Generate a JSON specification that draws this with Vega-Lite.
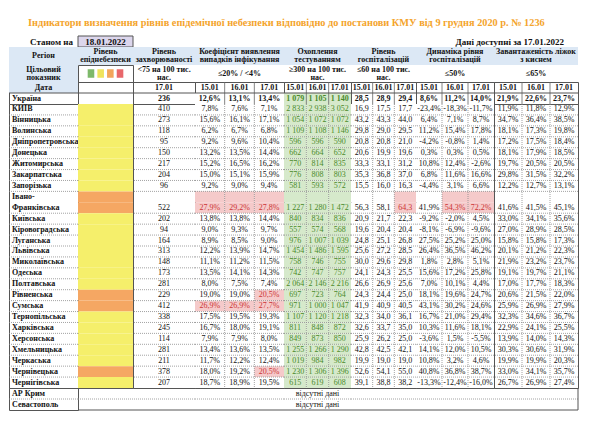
{
"$schema": "https://vega.github.io/schema/vega-lite/v6.json",
"background": "white",
"padding": {"left": 8, "top": 18, "right": 5, "bottom": 5},
"title": {"text": "Індикатори визначення рівнів епідемічної небезпеки відповідно до постанови КМУ від 9 грудня 2020 р. № 1236", "font": "Liberation Serif", "fontSize": 10.3, "fontWeight": "bold", "color": "#f4a42c", "anchor": "start", "dx": 20, "offset": 7},
"config": {
 "font": "Liberation Serif",
 "view": {"stroke": "#555", "strokeWidth": 1},
 "text": {"fontSize": 8, "color": "#111", "baseline": "middle"},
 "scale": {"bandPaddingInner": 0, "bandPaddingOuter": 0},
 "locale": {"number": {"decimal": ",", "thousands": " ", "grouping": [3], "currency": ["", ""], "minus": "-"}}
},
"datasets": {
 "dates": [{"k":"d15","t":"15.01"},{"k":"d16","t":"16.01"},{"k":"d17","t":"17.01"}],
 "regions": [
  {"r":"Україна","inc":236},
  {"r":"КИЇВ","lvl":"жовтий","inc":410},
  {"r":"Вінницька","lvl":"жовтий","inc":273},
  {"r":"Волинська","lvl":"жовтий","inc":118},
  {"r":"Дніпропетровська","lvl":"жовтий","inc":95},
  {"r":"Донецька","lvl":"жовтий","inc":150},
  {"r":"Житомирська","lvl":"жовтий","inc":217},
  {"r":"Закарпатська","lvl":"жовтий","inc":204},
  {"r":"Запорізька","lvl":"жовтий","inc":96},
  {"r":"Івано-","lvl":"помаранчевий"},
  {"r":"Івано-Франківська","lvl":"помаранчевий","inc":522},
  {"r":"Київська","lvl":"жовтий","inc":202},
  {"r":"Кіровоградська","lvl":"жовтий","inc":94},
  {"r":"Луганська","lvl":"жовтий","inc":164},
  {"r":"Львівська","lvl":"жовтий","inc":313},
  {"r":"Миколаївська","lvl":"жовтий","inc":148},
  {"r":"Одеська","lvl":"жовтий","inc":173},
  {"r":"Полтавська","lvl":"жовтий","inc":281},
  {"r":"Рівненська","lvl":"помаранчевий","inc":229},
  {"r":"Сумська","lvl":"помаранчевий","inc":412},
  {"r":"Тернопільська","lvl":"жовтий","inc":338},
  {"r":"Харківська","lvl":"жовтий","inc":245},
  {"r":"Херсонська","lvl":"жовтий","inc":114},
  {"r":"Хмельницька","lvl":"жовтий","inc":281},
  {"r":"Черкаська","lvl":"жовтий","inc":211},
  {"r":"Чернівецька","lvl":"помаранчевий","inc":378},
  {"r":"Чернігівська","lvl":"жовтий","inc":207}
 ],
 "coef": [
  {"r":"Україна","d15":0.126,"d16":0.131,"d17":0.134},
  {"r":"КИЇВ","d15":0.078,"d16":0.076,"d17":0.071},
  {"r":"Вінницька","d15":0.156,"d16":0.161,"d17":0.171},
  {"r":"Волинська","d15":0.062,"d16":0.067,"d17":0.068},
  {"r":"Дніпропетровська","d15":0.092,"d16":0.096,"d17":0.104},
  {"r":"Донецька","d15":0.132,"d16":0.135,"d17":0.144},
  {"r":"Житомирська","d15":0.152,"d16":0.165,"d17":0.162},
  {"r":"Закарпатська","d15":0.150,"d16":0.151,"d17":0.159},
  {"r":"Запорізька","d15":0.092,"d16":0.090,"d17":0.094},
  {"r":"Івано-Франківська","d15":0.279,"d16":0.292,"d17":0.278},
  {"r":"Київська","d15":0.138,"d16":0.138,"d17":0.144},
  {"r":"Кіровоградська","d15":0.090,"d16":0.093,"d17":0.097},
  {"r":"Луганська","d15":0.089,"d16":0.085,"d17":0.090},
  {"r":"Львівська","d15":0.122,"d16":0.139,"d17":0.147},
  {"r":"Миколаївська","d15":0.111,"d16":0.112,"d17":0.115},
  {"r":"Одеська","d15":0.135,"d16":0.141,"d17":0.143},
  {"r":"Полтавська","d15":0.080,"d16":0.075,"d17":0.074},
  {"r":"Рівненська","d15":0.190,"d16":0.190,"d17":0.205},
  {"r":"Сумська","d15":0.269,"d16":0.269,"d17":0.277},
  {"r":"Тернопільська","d15":0.175,"d16":0.195,"d17":0.193},
  {"r":"Харківська","d15":0.167,"d16":0.180,"d17":0.191},
  {"r":"Херсонська","d15":0.079,"d16":0.079,"d17":0.080},
  {"r":"Хмельницька","d15":0.134,"d16":0.136,"d17":0.135},
  {"r":"Черкаська","d15":0.117,"d16":0.122,"d17":0.124},
  {"r":"Чернівецька","d15":0.180,"d16":0.192,"d17":0.205},
  {"r":"Чернігівська","d15":0.187,"d16":0.189,"d17":0.195}
 ],
 "test": [
  {"r":"Україна","d15":1079,"d16":1105,"d17":1140},
  {"r":"КИЇВ","d15":2833,"d16":2938,"d17":3052},
  {"r":"Вінницька","d15":1054,"d16":1072,"d17":1072},
  {"r":"Волинська","d15":1109,"d16":1108,"d17":1146},
  {"r":"Дніпропетровська","d15":596,"d16":596,"d17":590},
  {"r":"Донецька","d15":662,"d16":664,"d17":652},
  {"r":"Житомирська","d15":770,"d16":814,"d17":835},
  {"r":"Закарпатська","d15":776,"d16":808,"d17":803},
  {"r":"Запорізька","d15":581,"d16":593,"d17":572},
  {"r":"Івано-Франківська","d15":1227,"d16":1280,"d17":1472},
  {"r":"Київська","d15":840,"d16":834,"d17":836},
  {"r":"Кіровоградська","d15":557,"d16":574,"d17":568},
  {"r":"Луганська","d15":976,"d16":1007,"d17":1039},
  {"r":"Львівська","d15":1454,"d16":1486,"d17":1595},
  {"r":"Миколаївська","d15":758,"d16":746,"d17":755},
  {"r":"Одеська","d15":742,"d16":747,"d17":757},
  {"r":"Полтавська","d15":2064,"d16":2146,"d17":2216},
  {"r":"Рівненська","d15":697,"d16":723,"d17":764},
  {"r":"Сумська","d15":971,"d16":1000,"d17":1047},
  {"r":"Тернопільська","d15":1107,"d16":1120,"d17":1218},
  {"r":"Харківська","d15":811,"d16":848,"d17":872},
  {"r":"Херсонська","d15":849,"d16":873,"d17":850},
  {"r":"Хмельницька","d15":1255,"d16":1266,"d17":1290},
  {"r":"Черкаська","d15":1019,"d16":984,"d17":982},
  {"r":"Чернівецька","d15":1230,"d16":1306,"d17":1396},
  {"r":"Чернігівська","d15":615,"d16":619,"d17":608}
 ],
 "hosp": [
  {"r":"Україна","d15":28.5,"d16":28.9,"d17":29.4},
  {"r":"КИЇВ","d15":16.9,"d16":17.5,"d17":17.7},
  {"r":"Вінницька","d15":43.2,"d16":43.3,"d17":44.0},
  {"r":"Волинська","d15":29.8,"d16":29.0,"d17":29.5},
  {"r":"Дніпропетровська","d15":20.8,"d16":20.8,"d17":21.0},
  {"r":"Донецька","d15":20.6,"d16":19.9,"d17":19.6},
  {"r":"Житомирська","d15":33.3,"d16":33.1,"d17":31.2},
  {"r":"Закарпатська","d15":35.3,"d16":36.8,"d17":37.0},
  {"r":"Запорізька","d15":15.5,"d16":16.0,"d17":16.3},
  {"r":"Івано-Франківська","d15":56.3,"d16":58.1,"d17":64.3},
  {"r":"Київська","d15":20.9,"d16":21.7,"d17":22.3},
  {"r":"Кіровоградська","d15":19.6,"d16":20.4,"d17":20.4},
  {"r":"Луганська","d15":24.8,"d16":25.1,"d17":26.8},
  {"r":"Львівська","d15":25.6,"d16":27.2,"d17":28.5},
  {"r":"Миколаївська","d15":30.0,"d16":29.6,"d17":29.8},
  {"r":"Одеська","d15":24.1,"d16":24.3,"d17":25.5},
  {"r":"Полтавська","d15":26.6,"d16":26.9,"d17":25.6},
  {"r":"Рівненська","d15":24.3,"d16":24.4,"d17":25.0},
  {"r":"Сумська","d15":41.9,"d16":40.9,"d17":40.5},
  {"r":"Тернопільська","d15":32.3,"d16":34.0,"d17":36.1},
  {"r":"Харківська","d15":32.6,"d16":33.7,"d17":35.0},
  {"r":"Херсонська","d15":25.9,"d16":26.2,"d17":25.0},
  {"r":"Хмельницька","d15":42.8,"d16":42.5,"d17":42.1},
  {"r":"Черкаська","d15":19.9,"d16":19.0,"d17":19.0},
  {"r":"Чернівецька","d15":52.6,"d16":54.1,"d17":55.0},
  {"r":"Чернігівська","d15":39.1,"d16":38.8,"d17":38.2}
 ],
 "dyn": [
  {"r":"Україна","d15":0.086,"d16":0.112,"d17":0.140},
  {"r":"КИЇВ","d15":-0.234,"d16":-0.183,"d17":-0.117},
  {"r":"Вінницька","d15":0.064,"d16":0.071,"d17":0.087},
  {"r":"Волинська","d15":0.112,"d16":0.154,"d17":0.178},
  {"r":"Дніпропетровська","d15":-0.042,"d16":-0.008,"d17":0.014},
  {"r":"Донецька","d15":0.003,"d16":0.003,"d17":0.005},
  {"r":"Житомирська","d15":0.108,"d16":0.124,"d17":-0.026},
  {"r":"Закарпатська","d15":0.068,"d16":0.116,"d17":0.166},
  {"r":"Запорізька","d15":-0.044,"d16":0.031,"d17":0.066},
  {"r":"Івано-Франківська","d15":0.419,"d16":0.543,"d17":0.722},
  {"r":"Київська","d15":-0.092,"d16":-0.020,"d17":0.045},
  {"r":"Кіровоградська","d15":-0.081,"d16":-0.069,"d17":-0.096},
  {"r":"Луганська","d15":0.275,"d16":0.252,"d17":0.250},
  {"r":"Львівська","d15":0.264,"d16":0.365,"d17":0.462},
  {"r":"Миколаївська","d15":0.018,"d16":0.028,"d17":0.051},
  {"r":"Одеська","d15":0.156,"d16":0.172,"d17":0.258},
  {"r":"Полтавська","d15":0.070,"d16":0.101,"d17":0.044},
  {"r":"Рівненська","d15":0.181,"d16":0.196,"d17":0.247},
  {"r":"Сумська","d15":0.431,"d16":0.302,"d17":0.246},
  {"r":"Тернопільська","d15":0.167,"d16":0.210,"d17":0.294},
  {"r":"Харківська","d15":0.103,"d16":0.116,"d17":0.181},
  {"r":"Херсонська","d15":-0.036,"d16":0.015,"d17":-0.055},
  {"r":"Хмельницька","d15":0.141,"d16":0.120,"d17":0.105},
  {"r":"Черкаська","d15":0.108,"d16":0.032,"d17":0.046},
  {"r":"Чернівецька","d15":0.408,"d16":0.368,"d17":0.387},
  {"r":"Чернігівська","d15":-0.133,"d16":-0.124,"d17":-0.160}
 ],
 "beds": [
  {"r":"Україна","d15":0.219,"d16":0.226,"d17":0.237},
  {"r":"КИЇВ","d15":0.119,"d16":0.118,"d17":0.129},
  {"r":"Вінницька","d15":0.347,"d16":0.364,"d17":0.385},
  {"r":"Волинська","d15":0.181,"d16":0.173,"d17":0.198},
  {"r":"Дніпропетровська","d15":0.172,"d16":0.175,"d17":0.184},
  {"r":"Донецька","d15":0.181,"d16":0.179,"d17":0.185},
  {"r":"Житомирська","d15":0.197,"d16":0.205,"d17":0.205},
  {"r":"Закарпатська","d15":0.298,"d16":0.315,"d17":0.322},
  {"r":"Запорізька","d15":0.122,"d16":0.127,"d17":0.131},
  {"r":"Івано-Франківська","d15":0.416,"d16":0.415,"d17":0.451},
  {"r":"Київська","d15":0.330,"d16":0.341,"d17":0.356},
  {"r":"Кіровоградська","d15":0.270,"d16":0.289,"d17":0.285},
  {"r":"Луганська","d15":0.158,"d16":0.158,"d17":0.173},
  {"r":"Львівська","d15":0.201,"d16":0.212,"d17":0.223},
  {"r":"Миколаївська","d15":0.219,"d16":0.232,"d17":0.237},
  {"r":"Одеська","d15":0.191,"d16":0.197,"d17":0.211},
  {"r":"Полтавська","d15":0.170,"d16":0.177,"d17":0.183},
  {"r":"Рівненська","d15":0.206,"d16":0.215,"d17":0.220},
  {"r":"Сумська","d15":0.259,"d16":0.269,"d17":0.279},
  {"r":"Тернопільська","d15":0.323,"d16":0.346,"d17":0.367},
  {"r":"Харківська","d15":0.229,"d16":0.241,"d17":0.255},
  {"r":"Херсонська","d15":0.139,"d16":0.140,"d17":0.143},
  {"r":"Хмельницька","d15":0.303,"d16":0.306,"d17":0.319},
  {"r":"Черкаська","d15":0.199,"d16":0.199,"d17":0.203},
  {"r":"Чернівецька","d15":0.330,"d16":0.341,"d17":0.357},
  {"r":"Чернігівська","d15":0.267,"d16":0.269,"d17":0.274}
 ]
},
"columns": 8,
"spacing": 0,
"bounds": "flush",
"concat": [
 {"width":69,"height":11,"view":{"stroke":null},"data":{"values":[{"t":"Станом на"}]},"mark":{"type":"text","fontWeight":"bold","fontSize":9,"align":"right","dx":-5},"encoding":{"x":{"datum":"a","type":"nominal","axis":null,"bandPosition":1,"scale":{"type":"band"}},"text":{"field":"t"}}},
 {"width":55,"height":11,"view":{"stroke":null},"data":{"values":[{"t":"18.01.2022"}]},"layer":[{"mark":{"type":"rect","fill":"#dcd6ec","stroke":"#555","strokeWidth":1},"encoding":{}},{"mark":{"type":"text","fontWeight":"bold","fontSize":9},"encoding":{"text":{"field":"t"}}}]},
 {"width":62,"height":11,"view":{"stroke":null},"data":{"values":[]},"mark":"text"},
 {"width":89,"height":11,"view":{"stroke":null},"data":{"values":[]},"mark":"text"},
 {"width":67,"height":11,"view":{"stroke":null},"data":{"values":[]},"mark":"text"},
 {"width":65,"height":11,"view":{"stroke":null},"data":{"values":[]},"mark":"text"},
 {"width":78,"height":11,"view":{"stroke":null},"data":{"values":[]},"mark":"text"},
 {"width":84,"height":11,"view":{"stroke":null},"data":{"values":[{"t":"Дані доступні за 17.01.2022"}]},"mark":{"type":"text","fontWeight":"bold","fontSize":9,"align":"right","dx":-14},"encoding":{"x":{"datum":"a","type":"nominal","axis":null,"bandPosition":1,"scale":{"type":"band"}},"text":{"field":"t"}}},

 {"width":69,"height":18,"view":{"fill":"#dce8f5"},"data":{"values":[{"a":"Регіон"}]},"mark":{"type":"text","fontWeight":"bold"},"encoding":{"text":{"field":"a"}}},
 {"width":55,"height":18,"view":{"fill":"#dce8f5"},"data":{"values":[{"a":"Рівень","b":"епіднебезпеки"}]},"layer":[{"mark":{"type":"text","fontWeight":"bold","dy":-4},"encoding":{"text":{"field":"a"}}},{"mark":{"type":"text","fontWeight":"bold","dy":4},"encoding":{"text":{"field":"b"}}}]},
 {"width":62,"height":18,"view":{"fill":"#dce8f5"},"data":{"values":[{"a":"Рівень","b":"захворюваності"}]},"layer":[{"mark":{"type":"text","fontWeight":"bold","dy":-4},"encoding":{"text":{"field":"a"}}},{"mark":{"type":"text","fontWeight":"bold","dy":4},"encoding":{"text":{"field":"b"}}}]},
 {"width":89,"height":18,"view":{"fill":"#dce8f5"},"data":{"values":[{"a":"Коефіцієнт виявлення","b":"випадків інфікування"}]},"layer":[{"mark":{"type":"text","fontWeight":"bold","dy":-4},"encoding":{"text":{"field":"a"}}},{"mark":{"type":"text","fontWeight":"bold","dy":4},"encoding":{"text":{"field":"b"}}}]},
 {"width":67,"height":18,"view":{"fill":"#dce8f5"},"data":{"values":[{"a":"Охоплення","b":"тестуванням"}]},"layer":[{"mark":{"type":"text","fontWeight":"bold","dy":-4},"encoding":{"text":{"field":"a"}}},{"mark":{"type":"text","fontWeight":"bold","dy":4},"encoding":{"text":{"field":"b"}}}]},
 {"width":65,"height":18,"view":{"fill":"#dce8f5"},"data":{"values":[{"a":"Рівень","b":"госпіталізацій"}]},"layer":[{"mark":{"type":"text","fontWeight":"bold","dy":-4},"encoding":{"text":{"field":"a"}}},{"mark":{"type":"text","fontWeight":"bold","dy":4},"encoding":{"text":{"field":"b"}}}]},
 {"width":78,"height":18,"view":{"fill":"#dce8f5"},"data":{"values":[{"a":"Динаміка рівня","b":"госпіталізацій"}]},"layer":[{"mark":{"type":"text","fontWeight":"bold","dy":-4},"encoding":{"text":{"field":"a"}}},{"mark":{"type":"text","fontWeight":"bold","dy":4},"encoding":{"text":{"field":"b"}}}]},
 {"width":84,"height":18,"view":{"fill":"#dce8f5"},"data":{"values":[{"a":"Завантаженість ліжок","b":"з киснем"}]},"layer":[{"mark":{"type":"text","fontWeight":"bold","dy":-4},"encoding":{"text":{"field":"a"}}},{"mark":{"type":"text","fontWeight":"bold","dy":4},"encoding":{"text":{"field":"b"}}}]},

 {"width":69,"height":17,"view":{"fill":"#dce8f5"},"data":{"values":[{"a":"Цільовий","b":"показник"}]},"layer":[{"mark":{"type":"text","fontWeight":"bold","dy":-4},"encoding":{"text":{"field":"a"}}},{"mark":{"type":"text","fontWeight":"bold","dy":4},"encoding":{"text":{"field":"b"}}}]},
 {"width":55,"height":17,"data":{"values":[{"c":"зелений"},{"c":"жовтий"},{"c":"помаранчевий"},{"c":"червоний"}]},"mark":{"type":"rect","height":{"band":0.5}},"encoding":{"x":{"field":"c","type":"nominal","sort":null,"axis":null,"scale":{"type":"band","paddingInner":0.32,"paddingOuter":1.75}},"y":{"datum":"s","type":"nominal","axis":null,"scale":{"type":"band"}},"color":{"field":"c","type":"nominal","legend":null,"scale":{"domain":["зелений","жовтий","помаранчевий","червоний"],"range":["#7db96a","#efe35c","#f2a55c","#e8676b"]}}}},
 {"width":62,"height":17,"data":{"values":[{"a":"<75 на 100 тис.","b":"нас."}]},"layer":[{"mark":{"type":"text","fontWeight":"bold","dy":-4},"encoding":{"text":{"field":"a"}}},{"mark":{"type":"text","fontWeight":"bold","dy":4},"encoding":{"text":{"field":"b"}}}]},
 {"width":89,"height":17,"data":{"values":[{"a":"≤20% / <4%"}]},"mark":{"type":"text","fontWeight":"bold"},"encoding":{"text":{"field":"a"}}},
 {"width":67,"height":17,"data":{"values":[{"a":"≥300 на 100 тис.","b":"нас."}]},"layer":[{"mark":{"type":"text","fontWeight":"bold","dy":-4},"encoding":{"text":{"field":"a"}}},{"mark":{"type":"text","fontWeight":"bold","dy":4},"encoding":{"text":{"field":"b"}}}]},
 {"width":65,"height":17,"data":{"values":[{"a":"≤60 на 100 тис.","b":"нас."}]},"layer":[{"mark":{"type":"text","fontWeight":"bold","dy":-4},"encoding":{"text":{"field":"a"}}},{"mark":{"type":"text","fontWeight":"bold","dy":4},"encoding":{"text":{"field":"b"}}}]},
 {"width":78,"height":17,"data":{"values":[{"a":"≤50%"}]},"mark":{"type":"text","fontWeight":"bold"},"encoding":{"text":{"field":"a"}}},
 {"width":84,"height":17,"data":{"values":[{"a":"≤65%"}]},"mark":{"type":"text","fontWeight":"bold"},"encoding":{"text":{"field":"a"}}},

 {"width":69,"height":22,"data":{"values":[{"r":"Дата"},{"r":"Україна"}]},"layer":[
  {"transform":[{"filter":"datum.r==='Дата'"}],"mark":{"type":"rect","fill":"#dce8f5"},"encoding":{"y":{"field":"r","type":"nominal","axis":null,"scale":{"type":"band","domain":["Дата","Україна"]}}}},
  {"transform":[{"filter":"datum.r==='Україна'"}],"mark":{"type":"rule","color":"#555"},"encoding":{"y":{"field":"r","type":"nominal","axis":null,"bandPosition":0,"scale":{"type":"band"}}}},
  {"transform":[{"filter":"datum.r==='Дата'"}],"mark":{"type":"text","fontWeight":"bold"},"encoding":{"y":{"field":"r","type":"nominal","axis":null,"scale":{"type":"band"}},"text":{"field":"r"}}},
  {"transform":[{"filter":"datum.r==='Україна'"}],"mark":{"type":"text","fontWeight":"bold","align":"left","dx":3},"encoding":{"x":{"datum":"a","type":"nominal","axis":null,"bandPosition":0,"scale":{"type":"band"}},"y":{"field":"r","type":"nominal","axis":null,"scale":{"type":"band"}},"text":{"field":"r"}}}
 ]},
 {"width":55,"height":22,"data":{"values":[{"r":"Україна"}]},"mark":{"type":"rule","color":"#555"},"encoding":{"y":{"field":"r","type":"nominal","axis":null,"bandPosition":0,"scale":{"type":"band","domain":["Дата","Україна"]}}}},
 {"width":62,"height":22,"layer":[
  {"data":{"name":"regions"},"transform":[{"filter":"datum.r==='Україна'"}],"mark":{"type":"rule","color":"#555"},"encoding":{"y":{"field":"r","type":"nominal","axis":null,"bandPosition":0,"scale":{"type":"band","domain":["Дата","Україна"]}}}},
  {"data":{"name":"regions"},"transform":[{"filter":"datum.r==='Україна'"}],"mark":{"type":"text","fontWeight":"bold"},"encoding":{"y":{"field":"r","type":"nominal","axis":null,"scale":{"type":"band"}},"text":{"field":"inc","type":"quantitative"}}},
  {"data":{"values":[{"t":"17.01"}]},"mark":{"type":"text","fontWeight":"bold"},"encoding":{"y":{"datum":"Дата","type":"nominal","axis":null,"scale":{"type":"band"}},"text":{"field":"t"}}}
 ]},
 {"width":89,"height":22,"layer":[
  {"data":{"name":"coef"},"transform":[{"filter":"datum.r==='Україна'"},{"fold":["d15","d16","d17"],"as":["k","v"]}],"mark":"rect","encoding":{"x":{"field":"k","type":"nominal","axis":null,"scale":{"type":"band"}},"y":{"field":"r","type":"nominal","axis":null,"scale":{"type":"band","domain":["Дата","Україна"]}},"fill":{"condition":{"test":"datum.v>0.2","value":"#f5caca"},"value":"#ffffff"}}},
  {"data":{"name":"dates"},"transform":[{"filter":"datum.k!=='d15'"}],"mark":{"type":"rule","color":"#666","strokeWidth":0.8},"encoding":{"x":{"field":"k","type":"nominal","axis":null,"bandPosition":0,"scale":{"type":"band"}}}},
  {"data":{"values":[{"r":"Україна"}]},"mark":{"type":"rule","color":"#555"},"encoding":{"y":{"field":"r","type":"nominal","axis":null,"bandPosition":0,"scale":{"type":"band"}}}},
  {"data":{"name":"dates"},"mark":{"type":"text","fontWeight":"bold"},"encoding":{"x":{"field":"k","type":"nominal","axis":null,"scale":{"type":"band"}},"y":{"datum":"Дата","type":"nominal","axis":null,"scale":{"type":"band"}},"text":{"field":"t"}}},
  {"data":{"name":"coef"},"transform":[{"filter":"datum.r==='Україна'"},{"fold":["d15","d16","d17"],"as":["k","v"]}],"mark":{"type":"text","fontWeight":"bold"},"encoding":{"x":{"field":"k","type":"nominal","axis":null,"scale":{"type":"band"}},"y":{"field":"r","type":"nominal","axis":null,"scale":{"type":"band"}},"text":{"field":"v","type":"quantitative","format":".1%"}}}
 ]},
 {"width":67,"height":22,"layer":[
  {"data":{"name":"test"},"transform":[{"filter":"datum.r==='Україна'"},{"fold":["d15","d16","d17"],"as":["k","v"]}],"mark":"rect","encoding":{"x":{"field":"k","type":"nominal","axis":null,"scale":{"type":"band"}},"y":{"field":"r","type":"nominal","axis":null,"scale":{"type":"band","domain":["Дата","Україна"]}},"fill":{"condition":{"test":"datum.v>=300","value":"#d6e9cb"},"value":"#ffffff"}}},
  {"data":{"name":"dates"},"transform":[{"filter":"datum.k!=='d15'"}],"mark":{"type":"rule","color":"#666","strokeWidth":0.8},"encoding":{"x":{"field":"k","type":"nominal","axis":null,"bandPosition":0,"scale":{"type":"band"}}}},
  {"data":{"values":[{"r":"Україна"}]},"mark":{"type":"rule","color":"#555"},"encoding":{"y":{"field":"r","type":"nominal","axis":null,"bandPosition":0,"scale":{"type":"band"}}}},
  {"data":{"name":"dates"},"mark":{"type":"text","fontWeight":"bold"},"encoding":{"x":{"field":"k","type":"nominal","axis":null,"scale":{"type":"band"}},"y":{"datum":"Дата","type":"nominal","axis":null,"scale":{"type":"band"}},"text":{"field":"t"}}},
  {"data":{"name":"test"},"transform":[{"filter":"datum.r==='Україна'"},{"fold":["d15","d16","d17"],"as":["k","v"]}],"mark":{"type":"text","fontWeight":"bold","color":"#4a8a2a"},"encoding":{"x":{"field":"k","type":"nominal","axis":null,"scale":{"type":"band"}},"y":{"field":"r","type":"nominal","axis":null,"scale":{"type":"band"}},"text":{"field":"v","type":"quantitative","format":",.0f"}}}
 ]},
 {"width":65,"height":22,"layer":[
  {"data":{"name":"dates"},"transform":[{"filter":"datum.k!=='d15'"}],"mark":{"type":"rule","color":"#666","strokeWidth":0.8},"encoding":{"x":{"field":"k","type":"nominal","axis":null,"bandPosition":0,"scale":{"type":"band"}}}},
  {"data":{"values":[{"r":"Україна"}]},"mark":{"type":"rule","color":"#555"},"encoding":{"y":{"field":"r","type":"nominal","axis":null,"bandPosition":0,"scale":{"type":"band","domain":["Дата","Україна"]}}}},
  {"data":{"name":"dates"},"mark":{"type":"text","fontWeight":"bold"},"encoding":{"x":{"field":"k","type":"nominal","axis":null,"scale":{"type":"band"}},"y":{"datum":"Дата","type":"nominal","axis":null,"scale":{"type":"band"}},"text":{"field":"t"}}},
  {"data":{"name":"hosp"},"transform":[{"filter":"datum.r==='Україна'"},{"fold":["d15","d16","d17"],"as":["k","v"]}],"mark":{"type":"text","fontWeight":"bold"},"encoding":{"x":{"field":"k","type":"nominal","axis":null,"scale":{"type":"band"}},"y":{"field":"r","type":"nominal","axis":null,"scale":{"type":"band"}},"text":{"field":"v","type":"quantitative","format":".1f"}}}
 ]},
 {"width":78,"height":22,"layer":[
  {"data":{"name":"dates"},"transform":[{"filter":"datum.k!=='d15'"}],"mark":{"type":"rule","color":"#666","strokeWidth":0.8},"encoding":{"x":{"field":"k","type":"nominal","axis":null,"bandPosition":0,"scale":{"type":"band"}}}},
  {"data":{"values":[{"r":"Україна"}]},"mark":{"type":"rule","color":"#555"},"encoding":{"y":{"field":"r","type":"nominal","axis":null,"bandPosition":0,"scale":{"type":"band","domain":["Дата","Україна"]}}}},
  {"data":{"name":"dates"},"mark":{"type":"text","fontWeight":"bold"},"encoding":{"x":{"field":"k","type":"nominal","axis":null,"scale":{"type":"band"}},"y":{"datum":"Дата","type":"nominal","axis":null,"scale":{"type":"band"}},"text":{"field":"t"}}},
  {"data":{"name":"dyn"},"transform":[{"filter":"datum.r==='Україна'"},{"fold":["d15","d16","d17"],"as":["k","v"]}],"mark":{"type":"text","fontWeight":"bold"},"encoding":{"x":{"field":"k","type":"nominal","axis":null,"scale":{"type":"band"}},"y":{"field":"r","type":"nominal","axis":null,"scale":{"type":"band"}},"text":{"field":"v","type":"quantitative","format":".1%"}}}
 ]},
 {"width":84,"height":22,"layer":[
  {"data":{"name":"dates"},"transform":[{"filter":"datum.k!=='d15'"}],"mark":{"type":"rule","color":"#666","strokeWidth":0.8},"encoding":{"x":{"field":"k","type":"nominal","axis":null,"bandPosition":0,"scale":{"type":"band"}}}},
  {"data":{"values":[{"r":"Україна"}]},"mark":{"type":"rule","color":"#555"},"encoding":{"y":{"field":"r","type":"nominal","axis":null,"bandPosition":0,"scale":{"type":"band","domain":["Дата","Україна"]}}}},
  {"data":{"name":"dates"},"mark":{"type":"text","fontWeight":"bold"},"encoding":{"x":{"field":"k","type":"nominal","axis":null,"scale":{"type":"band"}},"y":{"datum":"Дата","type":"nominal","axis":null,"scale":{"type":"band"}},"text":{"field":"t"}}},
  {"data":{"name":"beds"},"transform":[{"filter":"datum.r==='Україна'"},{"fold":["d15","d16","d17"],"as":["k","v"]}],"mark":{"type":"text","fontWeight":"bold"},"encoding":{"x":{"field":"k","type":"nominal","axis":null,"scale":{"type":"band"}},"y":{"field":"r","type":"nominal","axis":null,"scale":{"type":"band"}},"text":{"field":"v","type":"quantitative","format":".1%"}}}
 ]},

 {"width":69,"height":284,"layer":[
  {"data":{"name":"regions"},"transform":[{"filter":"datum.r!=='Україна'&&datum.r!=='Івано-'&&datum.r!=='Чернігівська'"}],"mark":{"type":"rule","color":"#8c8c8c","strokeDash":[1,1],"strokeWidth":0.8},"encoding":{"y":{"field":"r","type":"nominal","axis":null,"bandPosition":1,"scale":{"type":"band","domain":["КИЇВ","Вінницька","Волинська","Дніпропетровська","Донецька","Житомирська","Закарпатська","Запорізька","Івано-","Івано-Франківська","Київська","Кіровоградська","Луганська","Львівська","Миколаївська","Одеська","Полтавська","Рівненська","Сумська","Тернопільська","Харківська","Херсонська","Хмельницька","Черкаська","Чернівецька","Чернігівська"]}}}},
  {"data":{"name":"regions"},"transform":[{"filter":"datum.r!=='Україна'"}],"mark":{"type":"text","fontWeight":"bold","align":"left","dx":3},"encoding":{"x":{"datum":"a","type":"nominal","axis":null,"bandPosition":0,"scale":{"type":"band"}},"y":{"field":"r","type":"nominal","axis":null,"scale":{"type":"band"}},"text":{"condition":{"test":"datum.r==='Івано-Франківська'","value":"Франківська"},"field":"r"}}}
 ]},
 {"width":55,"height":284,"data":{"name":"regions"},"transform":[{"filter":"datum.r!=='Україна'"}],"mark":"rect","encoding":{"y":{"field":"r","type":"nominal","axis":null,"scale":{"type":"band","domain":["КИЇВ","Вінницька","Волинська","Дніпропетровська","Донецька","Житомирська","Закарпатська","Запорізька","Івано-","Івано-Франківська","Київська","Кіровоградська","Луганська","Львівська","Миколаївська","Одеська","Полтавська","Рівненська","Сумська","Тернопільська","Харківська","Херсонська","Хмельницька","Черкаська","Чернівецька","Чернігівська"]}},"fill":{"condition":{"test":"datum.lvl==='помаранчевий'","value":"#f5a763"},"value":"#f5ef6b"}}},
 {"width":62,"height":284,"layer":[
  {"data":{"name":"regions"},"transform":[{"filter":"datum.r!=='Україна'&&datum.r!=='Івано-'&&datum.r!=='Чернігівська'"}],"mark":{"type":"rule","color":"#8c8c8c","strokeDash":[1,1],"strokeWidth":0.8},"encoding":{"y":{"field":"r","type":"nominal","axis":null,"bandPosition":1,"scale":{"type":"band","domain":["КИЇВ","Вінницька","Волинська","Дніпропетровська","Донецька","Житомирська","Закарпатська","Запорізька","Івано-","Івано-Франківська","Київська","Кіровоградська","Луганська","Львівська","Миколаївська","Одеська","Полтавська","Рівненська","Сумська","Тернопільська","Харківська","Херсонська","Хмельницька","Черкаська","Чернівецька","Чернігівська"]}}}},
  {"data":{"name":"regions"},"transform":[{"filter":"datum.r!=='Україна'&&datum.inc!=null"}],"mark":"text","encoding":{"y":{"field":"r","type":"nominal","axis":null,"scale":{"type":"band"}},"text":{"field":"inc","type":"quantitative"}}}
 ]},
 {"width":89,"height":284,"layer":[
  {"data":{"name":"coef"},"transform":[{"filter":"datum.r!=='Україна'"},{"fold":["d15","d16","d17"],"as":["k","v"]}],"mark":"rect","encoding":{"x":{"field":"k","type":"nominal","axis":null,"scale":{"type":"band"}},"y":{"field":"r","type":"nominal","axis":null,"scale":{"type":"band","domain":["КИЇВ","Вінницька","Волинська","Дніпропетровська","Донецька","Житомирська","Закарпатська","Запорізька","Івано-","Івано-Франківська","Київська","Кіровоградська","Луганська","Львівська","Миколаївська","Одеська","Полтавська","Рівненська","Сумська","Тернопільська","Харківська","Херсонська","Хмельницька","Черкаська","Чернівецька","Чернігівська"]}},"fill":{"condition":{"test":"datum.v>0.2","value":"#f5caca"},"value":"#ffffff"}}},
  {"data":{"name":"coef"},"transform":[{"filter":"datum.r==='Івано-Франківська'"},{"fold":["d15","d16","d17"],"as":["k","v"]}],"mark":"rect","encoding":{"x":{"field":"k","type":"nominal","axis":null,"scale":{"type":"band"}},"y":{"datum":"Івано-","type":"nominal","axis":null,"scale":{"type":"band"}},"fill":{"condition":{"test":"datum.v>0.2","value":"#f5caca"},"value":"#ffffff"}}},
  {"data":{"name":"regions"},"transform":[{"filter":"datum.r!=='Україна'&&datum.r!=='Івано-'&&datum.r!=='Чернігівська'"}],"mark":{"type":"rule","color":"#8c8c8c","strokeDash":[1,1],"strokeWidth":0.8},"encoding":{"y":{"field":"r","type":"nominal","axis":null,"bandPosition":1,"scale":{"type":"band"}}}},
  {"data":{"name":"dates"},"transform":[{"filter":"datum.k!=='d15'"}],"mark":{"type":"rule","color":"#8c8c8c","strokeDash":[1,1],"strokeWidth":0.8},"encoding":{"x":{"field":"k","type":"nominal","axis":null,"bandPosition":0,"scale":{"type":"band"}}}},
  {"data":{"name":"coef"},"transform":[{"filter":"datum.r!=='Україна'"},{"fold":["d15","d16","d17"],"as":["k","v"]}],"mark":"text","encoding":{"x":{"field":"k","type":"nominal","axis":null,"scale":{"type":"band"}},"y":{"field":"r","type":"nominal","axis":null,"scale":{"type":"band"}},"text":{"field":"v","type":"quantitative","format":".1%"},"color":{"condition":{"test":"datum.v>0.2","value":"#cc3333"},"value":"#111"}}}
 ]},
 {"width":67,"height":284,"layer":[
  {"data":{"name":"test"},"transform":[{"filter":"datum.r!=='Україна'"},{"fold":["d15","d16","d17"],"as":["k","v"]}],"mark":"rect","encoding":{"x":{"field":"k","type":"nominal","axis":null,"scale":{"type":"band"}},"y":{"field":"r","type":"nominal","axis":null,"scale":{"type":"band","domain":["КИЇВ","Вінницька","Волинська","Дніпропетровська","Донецька","Житомирська","Закарпатська","Запорізька","Івано-","Івано-Франківська","Київська","Кіровоградська","Луганська","Львівська","Миколаївська","Одеська","Полтавська","Рівненська","Сумська","Тернопільська","Харківська","Херсонська","Хмельницька","Черкаська","Чернівецька","Чернігівська"]}},"fill":{"condition":{"test":"datum.v>=300","value":"#d6e9cb"},"value":"#ffffff"}}},
  {"data":{"name":"test"},"transform":[{"filter":"datum.r==='Івано-Франківська'"},{"fold":["d15","d16","d17"],"as":["k","v"]}],"mark":"rect","encoding":{"x":{"field":"k","type":"nominal","axis":null,"scale":{"type":"band"}},"y":{"datum":"Івано-","type":"nominal","axis":null,"scale":{"type":"band"}},"fill":{"condition":{"test":"datum.v>=300","value":"#d6e9cb"},"value":"#ffffff"}}},
  {"data":{"name":"regions"},"transform":[{"filter":"datum.r!=='Україна'&&datum.r!=='Івано-'&&datum.r!=='Чернігівська'"}],"mark":{"type":"rule","color":"#8c8c8c","strokeDash":[1,1],"strokeWidth":0.8},"encoding":{"y":{"field":"r","type":"nominal","axis":null,"bandPosition":1,"scale":{"type":"band"}}}},
  {"data":{"name":"dates"},"transform":[{"filter":"datum.k!=='d15'"}],"mark":{"type":"rule","color":"#8c8c8c","strokeDash":[1,1],"strokeWidth":0.8},"encoding":{"x":{"field":"k","type":"nominal","axis":null,"bandPosition":0,"scale":{"type":"band"}}}},
  {"data":{"name":"test"},"transform":[{"filter":"datum.r!=='Україна'"},{"fold":["d15","d16","d17"],"as":["k","v"]}],"mark":{"type":"text","color":"#4a8a2a"},"encoding":{"x":{"field":"k","type":"nominal","axis":null,"scale":{"type":"band"}},"y":{"field":"r","type":"nominal","axis":null,"scale":{"type":"band"}},"text":{"field":"v","type":"quantitative","format":",.0f"}}}
 ]},
 {"width":65,"height":284,"layer":[
  {"data":{"name":"hosp"},"transform":[{"filter":"datum.r!=='Україна'"},{"fold":["d15","d16","d17"],"as":["k","v"]}],"mark":"rect","encoding":{"x":{"field":"k","type":"nominal","axis":null,"scale":{"type":"band"}},"y":{"field":"r","type":"nominal","axis":null,"scale":{"type":"band","domain":["КИЇВ","Вінницька","Волинська","Дніпропетровська","Донецька","Житомирська","Закарпатська","Запорізька","Івано-","Івано-Франківська","Київська","Кіровоградська","Луганська","Львівська","Миколаївська","Одеська","Полтавська","Рівненська","Сумська","Тернопільська","Харківська","Херсонська","Хмельницька","Черкаська","Чернівецька","Чернігівська"]}},"fill":{"condition":{"test":"datum.v>60","value":"#f5caca"},"value":"#ffffff"}}},
  {"data":{"name":"hosp"},"transform":[{"filter":"datum.r==='Івано-Франківська'"},{"fold":["d15","d16","d17"],"as":["k","v"]}],"mark":"rect","encoding":{"x":{"field":"k","type":"nominal","axis":null,"scale":{"type":"band"}},"y":{"datum":"Івано-","type":"nominal","axis":null,"scale":{"type":"band"}},"fill":{"condition":{"test":"datum.v>60","value":"#f5caca"},"value":"#ffffff"}}},
  {"data":{"name":"regions"},"transform":[{"filter":"datum.r!=='Україна'&&datum.r!=='Івано-'&&datum.r!=='Чернігівська'"}],"mark":{"type":"rule","color":"#8c8c8c","strokeDash":[1,1],"strokeWidth":0.8},"encoding":{"y":{"field":"r","type":"nominal","axis":null,"bandPosition":1,"scale":{"type":"band"}}}},
  {"data":{"name":"dates"},"transform":[{"filter":"datum.k!=='d15'"}],"mark":{"type":"rule","color":"#8c8c8c","strokeDash":[1,1],"strokeWidth":0.8},"encoding":{"x":{"field":"k","type":"nominal","axis":null,"bandPosition":0,"scale":{"type":"band"}}}},
  {"data":{"name":"hosp"},"transform":[{"filter":"datum.r!=='Україна'"},{"fold":["d15","d16","d17"],"as":["k","v"]}],"mark":"text","encoding":{"x":{"field":"k","type":"nominal","axis":null,"scale":{"type":"band"}},"y":{"field":"r","type":"nominal","axis":null,"scale":{"type":"band"}},"text":{"field":"v","type":"quantitative","format":".1f"},"color":{"condition":{"test":"datum.v>60","value":"#cc3333"},"value":"#111"}}}
 ]},
 {"width":78,"height":284,"layer":[
  {"data":{"name":"dyn"},"transform":[{"filter":"datum.r!=='Україна'"},{"fold":["d15","d16","d17"],"as":["k","v"]}],"mark":"rect","encoding":{"x":{"field":"k","type":"nominal","axis":null,"scale":{"type":"band"}},"y":{"field":"r","type":"nominal","axis":null,"scale":{"type":"band","domain":["КИЇВ","Вінницька","Волинська","Дніпропетровська","Донецька","Житомирська","Закарпатська","Запорізька","Івано-","Івано-Франківська","Київська","Кіровоградська","Луганська","Львівська","Миколаївська","Одеська","Полтавська","Рівненська","Сумська","Тернопільська","Харківська","Херсонська","Хмельницька","Черкаська","Чернівецька","Чернігівська"]}},"fill":{"condition":{"test":"datum.v>0.5","value":"#f5caca"},"value":"#ffffff"}}},
  {"data":{"name":"dyn"},"transform":[{"filter":"datum.r==='Івано-Франківська'"},{"fold":["d15","d16","d17"],"as":["k","v"]}],"mark":"rect","encoding":{"x":{"field":"k","type":"nominal","axis":null,"scale":{"type":"band"}},"y":{"datum":"Івано-","type":"nominal","axis":null,"scale":{"type":"band"}},"fill":{"condition":{"test":"datum.v>0.5","value":"#f5caca"},"value":"#ffffff"}}},
  {"data":{"name":"regions"},"transform":[{"filter":"datum.r!=='Україна'&&datum.r!=='Івано-'&&datum.r!=='Чернігівська'"}],"mark":{"type":"rule","color":"#8c8c8c","strokeDash":[1,1],"strokeWidth":0.8},"encoding":{"y":{"field":"r","type":"nominal","axis":null,"bandPosition":1,"scale":{"type":"band"}}}},
  {"data":{"name":"dates"},"transform":[{"filter":"datum.k!=='d15'"}],"mark":{"type":"rule","color":"#8c8c8c","strokeDash":[1,1],"strokeWidth":0.8},"encoding":{"x":{"field":"k","type":"nominal","axis":null,"bandPosition":0,"scale":{"type":"band"}}}},
  {"data":{"name":"dyn"},"transform":[{"filter":"datum.r!=='Україна'"},{"fold":["d15","d16","d17"],"as":["k","v"]}],"mark":"text","encoding":{"x":{"field":"k","type":"nominal","axis":null,"scale":{"type":"band"}},"y":{"field":"r","type":"nominal","axis":null,"scale":{"type":"band"}},"text":{"field":"v","type":"quantitative","format":".1%"},"color":{"condition":{"test":"datum.v>0.5","value":"#cc3333"},"value":"#111"}}}
 ]},
 {"width":84,"height":284,"layer":[
  {"data":{"name":"regions"},"transform":[{"filter":"datum.r!=='Україна'&&datum.r!=='Івано-'&&datum.r!=='Чернігівська'"}],"mark":{"type":"rule","color":"#8c8c8c","strokeDash":[1,1],"strokeWidth":0.8},"encoding":{"y":{"field":"r","type":"nominal","axis":null,"bandPosition":1,"scale":{"type":"band","domain":["КИЇВ","Вінницька","Волинська","Дніпропетровська","Донецька","Житомирська","Закарпатська","Запорізька","Івано-","Івано-Франківська","Київська","Кіровоградська","Луганська","Львівська","Миколаївська","Одеська","Полтавська","Рівненська","Сумська","Тернопільська","Харківська","Херсонська","Хмельницька","Черкаська","Чернівецька","Чернігівська"]}}}},
  {"data":{"name":"dates"},"transform":[{"filter":"datum.k!=='d15'"}],"mark":{"type":"rule","color":"#8c8c8c","strokeDash":[1,1],"strokeWidth":0.8},"encoding":{"x":{"field":"k","type":"nominal","axis":null,"bandPosition":0,"scale":{"type":"band"}}}},
  {"data":{"name":"beds"},"transform":[{"filter":"datum.r!=='Україна'"},{"fold":["d15","d16","d17"],"as":["k","v"]}],"mark":"text","encoding":{"x":{"field":"k","type":"nominal","axis":null,"scale":{"type":"band"}},"y":{"field":"r","type":"nominal","axis":null,"scale":{"type":"band"}},"text":{"field":"v","type":"quantitative","format":".1%"}}}
 ]},

 {"width":69,"height":22,"data":{"values":[{"r":"АР Крим"},{"r":"Севастополь"}]},"layer":[
  {"transform":[{"filter":"datum.r==='АР Крим'"}],"mark":{"type":"rule","color":"#8c8c8c","strokeDash":[1,1],"strokeWidth":0.8},"encoding":{"y":{"field":"r","type":"nominal","axis":null,"bandPosition":1,"scale":{"type":"band","domain":["АР Крим","Севастополь"]}}}},
  {"mark":{"type":"text","fontWeight":"bold","align":"left","dx":3},"encoding":{"x":{"datum":"a","type":"nominal","axis":null,"bandPosition":0,"scale":{"type":"band"}},"y":{"field":"r","type":"nominal","axis":null,"scale":{"type":"band"}},"text":{"field":"r"}}}
 ]},
 {"width":55,"height":22,"view":{"stroke":null},"data":{"values":[{"r":"АР Крим"},{"r":"Севастополь"}]},"layer":[
  {"transform":[{"filter":"datum.r==='АР Крим'"}],"mark":{"type":"rule","color":"#8c8c8c","strokeDash":[1,1],"strokeWidth":0.8},"encoding":{"y":{"field":"r","type":"nominal","axis":null,"bandPosition":1,"scale":{"type":"band","domain":["АР Крим","Севастополь"]}}}},
  {"transform":[{"filter":"datum.r==='Севастополь'"}],"mark":{"type":"rule","color":"#555"},"encoding":{"y":{"field":"r","type":"nominal","axis":null,"bandPosition":1,"scale":{"type":"band"}}}}
 ]},
 {"width":62,"height":22,"view":{"stroke":null},"data":{"values":[{"r":"АР Крим"},{"r":"Севастополь"}]},"layer":[
  {"transform":[{"filter":"datum.r==='АР Крим'"}],"mark":{"type":"rule","color":"#8c8c8c","strokeDash":[1,1],"strokeWidth":0.8},"encoding":{"y":{"field":"r","type":"nominal","axis":null,"bandPosition":1,"scale":{"type":"band","domain":["АР Крим","Севастополь"]}}}},
  {"transform":[{"filter":"datum.r==='Севастополь'"}],"mark":{"type":"rule","color":"#555"},"encoding":{"y":{"field":"r","type":"nominal","axis":null,"bandPosition":1,"scale":{"type":"band"}}}}
 ]},
 {"width":89,"height":22,"view":{"stroke":null},"data":{"values":[{"r":"АР Крим"},{"r":"Севастополь"}]},"layer":[
  {"transform":[{"filter":"datum.r==='АР Крим'"}],"mark":{"type":"rule","color":"#8c8c8c","strokeDash":[1,1],"strokeWidth":0.8},"encoding":{"y":{"field":"r","type":"nominal","axis":null,"bandPosition":1,"scale":{"type":"band","domain":["АР Крим","Севастополь"]}}}},
  {"transform":[{"filter":"datum.r==='Севастополь'"}],"mark":{"type":"rule","color":"#555"},"encoding":{"y":{"field":"r","type":"nominal","axis":null,"bandPosition":1,"scale":{"type":"band"}}}}
 ]},
 {"width":67,"height":22,"view":{"stroke":null},"data":{"values":[{"r":"АР Крим","t":"відсутні дані"},{"r":"Севастополь","t":"відсутні дані"}]},"layer":[
  {"transform":[{"filter":"datum.r==='АР Крим'"}],"mark":{"type":"rule","color":"#8c8c8c","strokeDash":[1,1],"strokeWidth":0.8},"encoding":{"y":{"field":"r","type":"nominal","axis":null,"bandPosition":1,"scale":{"type":"band","domain":["АР Крим","Севастополь"]}}}},
  {"transform":[{"filter":"datum.r==='Севастополь'"}],"mark":{"type":"rule","color":"#555"},"encoding":{"y":{"field":"r","type":"nominal","axis":null,"bandPosition":1,"scale":{"type":"band"}}}},
  {"mark":"text","encoding":{"y":{"field":"r","type":"nominal","axis":null,"scale":{"type":"band"}},"text":{"field":"t"}}}
 ]},
 {"width":65,"height":22,"view":{"stroke":null},"data":{"values":[{"r":"АР Крим"},{"r":"Севастополь"}]},"layer":[
  {"transform":[{"filter":"datum.r==='АР Крим'"}],"mark":{"type":"rule","color":"#8c8c8c","strokeDash":[1,1],"strokeWidth":0.8},"encoding":{"y":{"field":"r","type":"nominal","axis":null,"bandPosition":1,"scale":{"type":"band","domain":["АР Крим","Севастополь"]}}}},
  {"transform":[{"filter":"datum.r==='Севастополь'"}],"mark":{"type":"rule","color":"#555"},"encoding":{"y":{"field":"r","type":"nominal","axis":null,"bandPosition":1,"scale":{"type":"band"}}}}
 ]},
 {"width":78,"height":22,"view":{"stroke":null},"data":{"values":[{"r":"АР Крим"},{"r":"Севастополь"}]},"layer":[
  {"transform":[{"filter":"datum.r==='АР Крим'"}],"mark":{"type":"rule","color":"#8c8c8c","strokeDash":[1,1],"strokeWidth":0.8},"encoding":{"y":{"field":"r","type":"nominal","axis":null,"bandPosition":1,"scale":{"type":"band","domain":["АР Крим","Севастополь"]}}}},
  {"transform":[{"filter":"datum.r==='Севастополь'"}],"mark":{"type":"rule","color":"#555"},"encoding":{"y":{"field":"r","type":"nominal","axis":null,"bandPosition":1,"scale":{"type":"band"}}}}
 ]},
 {"width":84,"height":22,"view":{"stroke":null},"data":{"values":[{"r":"АР Крим"},{"r":"Севастополь"}]},"layer":[
  {"transform":[{"filter":"datum.r==='АР Крим'"}],"mark":{"type":"rule","color":"#8c8c8c","strokeDash":[1,1],"strokeWidth":0.8},"encoding":{"y":{"field":"r","type":"nominal","axis":null,"bandPosition":1,"scale":{"type":"band","domain":["АР Крим","Севастополь"]}}}},
  {"transform":[{"filter":"datum.r==='Севастополь'"}],"mark":{"type":"rule","color":"#555"},"encoding":{"y":{"field":"r","type":"nominal","axis":null,"bandPosition":1,"scale":{"type":"band"}}}},
  {"transform":[{"filter":"datum.r==='Севастополь'"}],"mark":{"type":"rule","color":"#555"},"encoding":{"x":{"datum":"a","type":"nominal","axis":null,"bandPosition":1,"scale":{"type":"band"}}}}
 ]}
]
}
